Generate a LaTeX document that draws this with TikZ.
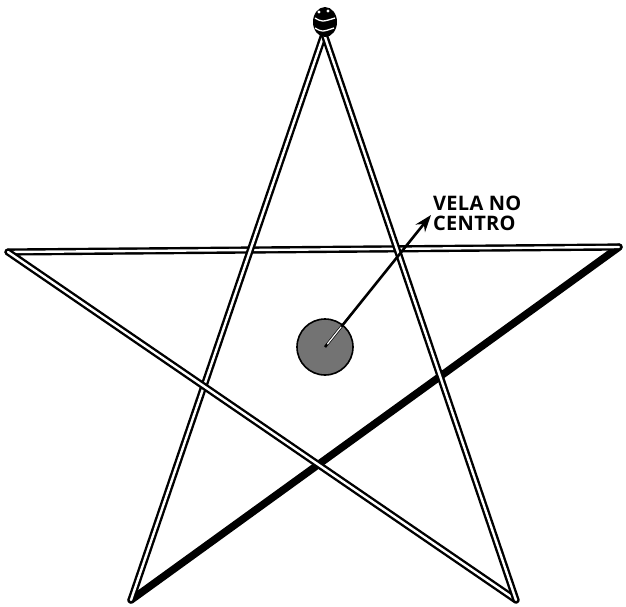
\documentclass[tikz,border=0pt]{standalone}
\usepackage{fontspec}
\newfontfamily\labelfont{Open Sans}[LetterSpace=1.5]
\usetikzlibrary{arrows.meta, calc}
\tikzstyle{stick} = [draw=black, line width=2.4pt, double=white, double distance=2.4pt, line cap=round]
\tikzstyle{darkstick} = [draw=black, line width=7.5pt, line cap=round]
\tikzstyle{arrow} = [line width=2.6pt, -{Stealth[length=17pt,width=12pt]}]
\tikzstyle{candle} = [circle, draw=black, line width=1.6pt, fill=black!55, minimum size=56pt, inner sep=0pt]

\begin{document}
\begin{tikzpicture}[x=1pt,y=-1pt]
\useasboundingbox (0,0) rectangle (626,606);

% Star points
\coordinate (top) at (324,34);
\coordinate (left) at (8,252);
\coordinate (right) at (619,247);
\coordinate (botleft) at (131,600);
\coordinate (botright) at (516,600);

% Sticks
\draw[darkstick] (right) -- (botleft);
\draw[stick] (left) -- (right);
\draw[stick] (top) -- (botleft);
\draw[stick] (left) -- (botright);
\draw[stick] (top) -- (botright);

% Knot at the top
\fill[black] (325,22) ellipse (12pt and 15pt);
\draw[white, line width=1.3pt] (315,18) .. controls (322,22) .. (335,18);
\draw[white, line width=1.3pt] (315,28) .. controls (322,32) .. (334,28);
\fill[white] (319,12) circle (1.6pt);
\fill[white] (328,11) circle (1.6pt);

% Candle and label
\node[candle] (vela) at (325,347) {};
\node[font=\labelfont\bfseries\fontsize{20}{20}\selectfont, align=left, anchor=north west, inner sep=0pt] (lbl) at (433,196) {VELA NO\\CENTRO};
\coordinate (tip) at (431,215);
\draw[arrow] (vela.center) -- (tip);
\begin{scope}
  \clip (vela.center) circle (26pt);
  \draw[white, line width=1.2pt, line cap=round] ($(vela.center)!4pt!(tip)$) -- ($(vela.center)!30pt!(tip)$);
\end{scope}

\end{tikzpicture}
\end{document}
